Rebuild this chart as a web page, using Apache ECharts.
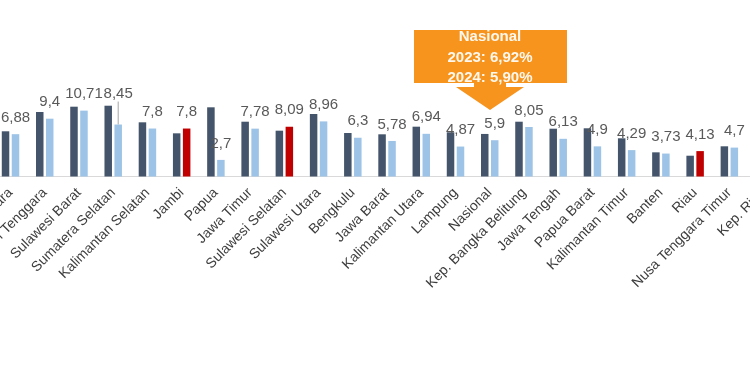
<!DOCTYPE html>
<html>
<head>
    <meta charset="utf-8">
    <script src="https://cdn.jsdelivr.net/npm/echarts@6/dist/echarts.min.js"></script>
</head>
<style>
    *{
        margin:0;
        padding:0;
    }
    body{
        background:#fff;
    }
</style>
<body>
<div id="main" style="width:750px;height:375px;"></div>
<script type="text/javascript">
    // provinsi (potongan grafik)
    var provinsi = ["Sumatera Utara","Sulawesi Tenggara","Sulawesi Barat","Sumatera Selatan","Kalimantan Selatan",
        "Jambi","Papua","Jawa Timur","Sulawesi Selatan","Sulawesi Utara","Bengkulu","Jawa Barat",
        "Kalimantan Utara","Lampung","Nasional","Kep. Bangka Belitung","Jawa Tengah","Papua Barat",
        "Kalimantan Timur","Banten","Riau","Nusa Tenggara Timur","Kep. Riau"];
    var nilai2023 = [7.35,10.49,11.35,11.51,8.81,7.02,11.25,8.91,7.45,10.16,7.07,6.86,
        8.1,7.19,6.92,8.91,7.77,7.84,6.21,3.93,3.38,4.91,null];
    var nilai2024 = [6.88,9.4,10.71,8.45,7.8,7.8,2.7,7.78,8.09,8.96,6.3,5.78,
        6.94,4.87,5.9,8.05,6.13,4.9,4.29,3.73,4.13,4.7,null];
    var sorot = ["Jambi","Sulawesi Selatan","Riau"];
    var nasional = {2023: "6,92%", 2024: "5,90%"};

    var data2024 = nilai2024.map(function (v, i) {
        var item = {value: v};
        if (sorot.indexOf(provinsi[i]) >= 0) item.itemStyle = {color: '#c00000'};
        if (provinsi[i] === 'Lampung') item.label = {offset: [0, -10]};
        if (provinsi[i] === 'Sumatera Selatan') {
            item.labelLine = {show: true, lineStyle: {color: '#a6a6a6', width: 1}};
        }
        return item;
    });

    var myChart = echarts.init(document.getElementById('main'));

    var option = {
        animation: false,
        grid: {
            left: -6.6,
            right: -30.7,
            top: 53.5,
            bottom: 198.5,
            outerBoundsMode: 'none',
            containLabel: false
        },
        xAxis: {
            type: 'category',
            data: provinsi,
            axisLine: {lineStyle: {color: '#d9d9d9'}},
            axisTick: {length: 4, lineStyle: {color: '#d9d9d9'}},
            axisLabel: {
                rotate: 45,
                interval: 0,
                margin: 14,
                color: '#3d3d3d',
                fontSize: 14,
                fontFamily: 'Liberation Sans'
            }
        },
        yAxis: {
            type: 'value',
            min: 0,
            max: 20,
            show: false
        },
        series: [{
            name: '2023',
            type: 'bar',
            data: nilai2023,
            barWidth: 7.5,
            barGap: '33%',
            itemStyle: {color: '#44546a'}
        }, {
            name: '2024',
            type: 'bar',
            data: data2024,
            barWidth: 7.5,
            itemStyle: {color: '#9dc3e6'},
            label: {
                show: true,
                position: 'top',
                distance: 9,
                color: '#595959',
                fontSize: 15,
                fontFamily: 'Liberation Sans',
                formatter: function (p) {
                    return String(p.value).replace('.', ',');
                }
            },
            labelLayout: function (p) {
                if (p.dataIndex === 3) return {dy: -14};
                return {};
            }
        }],
        graphic: [{
            type: 'rect',
            shape: {x: 414, y: 30, width: 153, height: 53},
            style: {fill: '#f7941d'}
        }, {
            type: 'polygon',
            shape: {points: [[474, 82], [506, 82], [506, 87], [524, 87], [490, 110], [456, 87], [474, 87]]},
            style: {fill: '#f7941d'}
        }, {
            type: 'text',
            x: 490, y: 37,
            style: {text: 'Nasional', fill: '#fff8ee', font: 'bold 15px "Liberation Sans"', align: 'center', verticalAlign: 'middle'}
        }, {
            type: 'text',
            x: 490, y: 58,
            style: {text: '2023: ' + nasional[2023], fill: '#fff8ee', font: 'bold 15px "Liberation Sans"', align: 'center', verticalAlign: 'middle'}
        }, {
            type: 'text',
            x: 490, y: 78,
            style: {text: '2024: ' + nasional[2024], fill: '#fff8ee', font: 'bold 15px "Liberation Sans"', align: 'center', verticalAlign: 'middle'}
        }]
    };

    myChart.setOption(option);
</script>
</body>
</html>
